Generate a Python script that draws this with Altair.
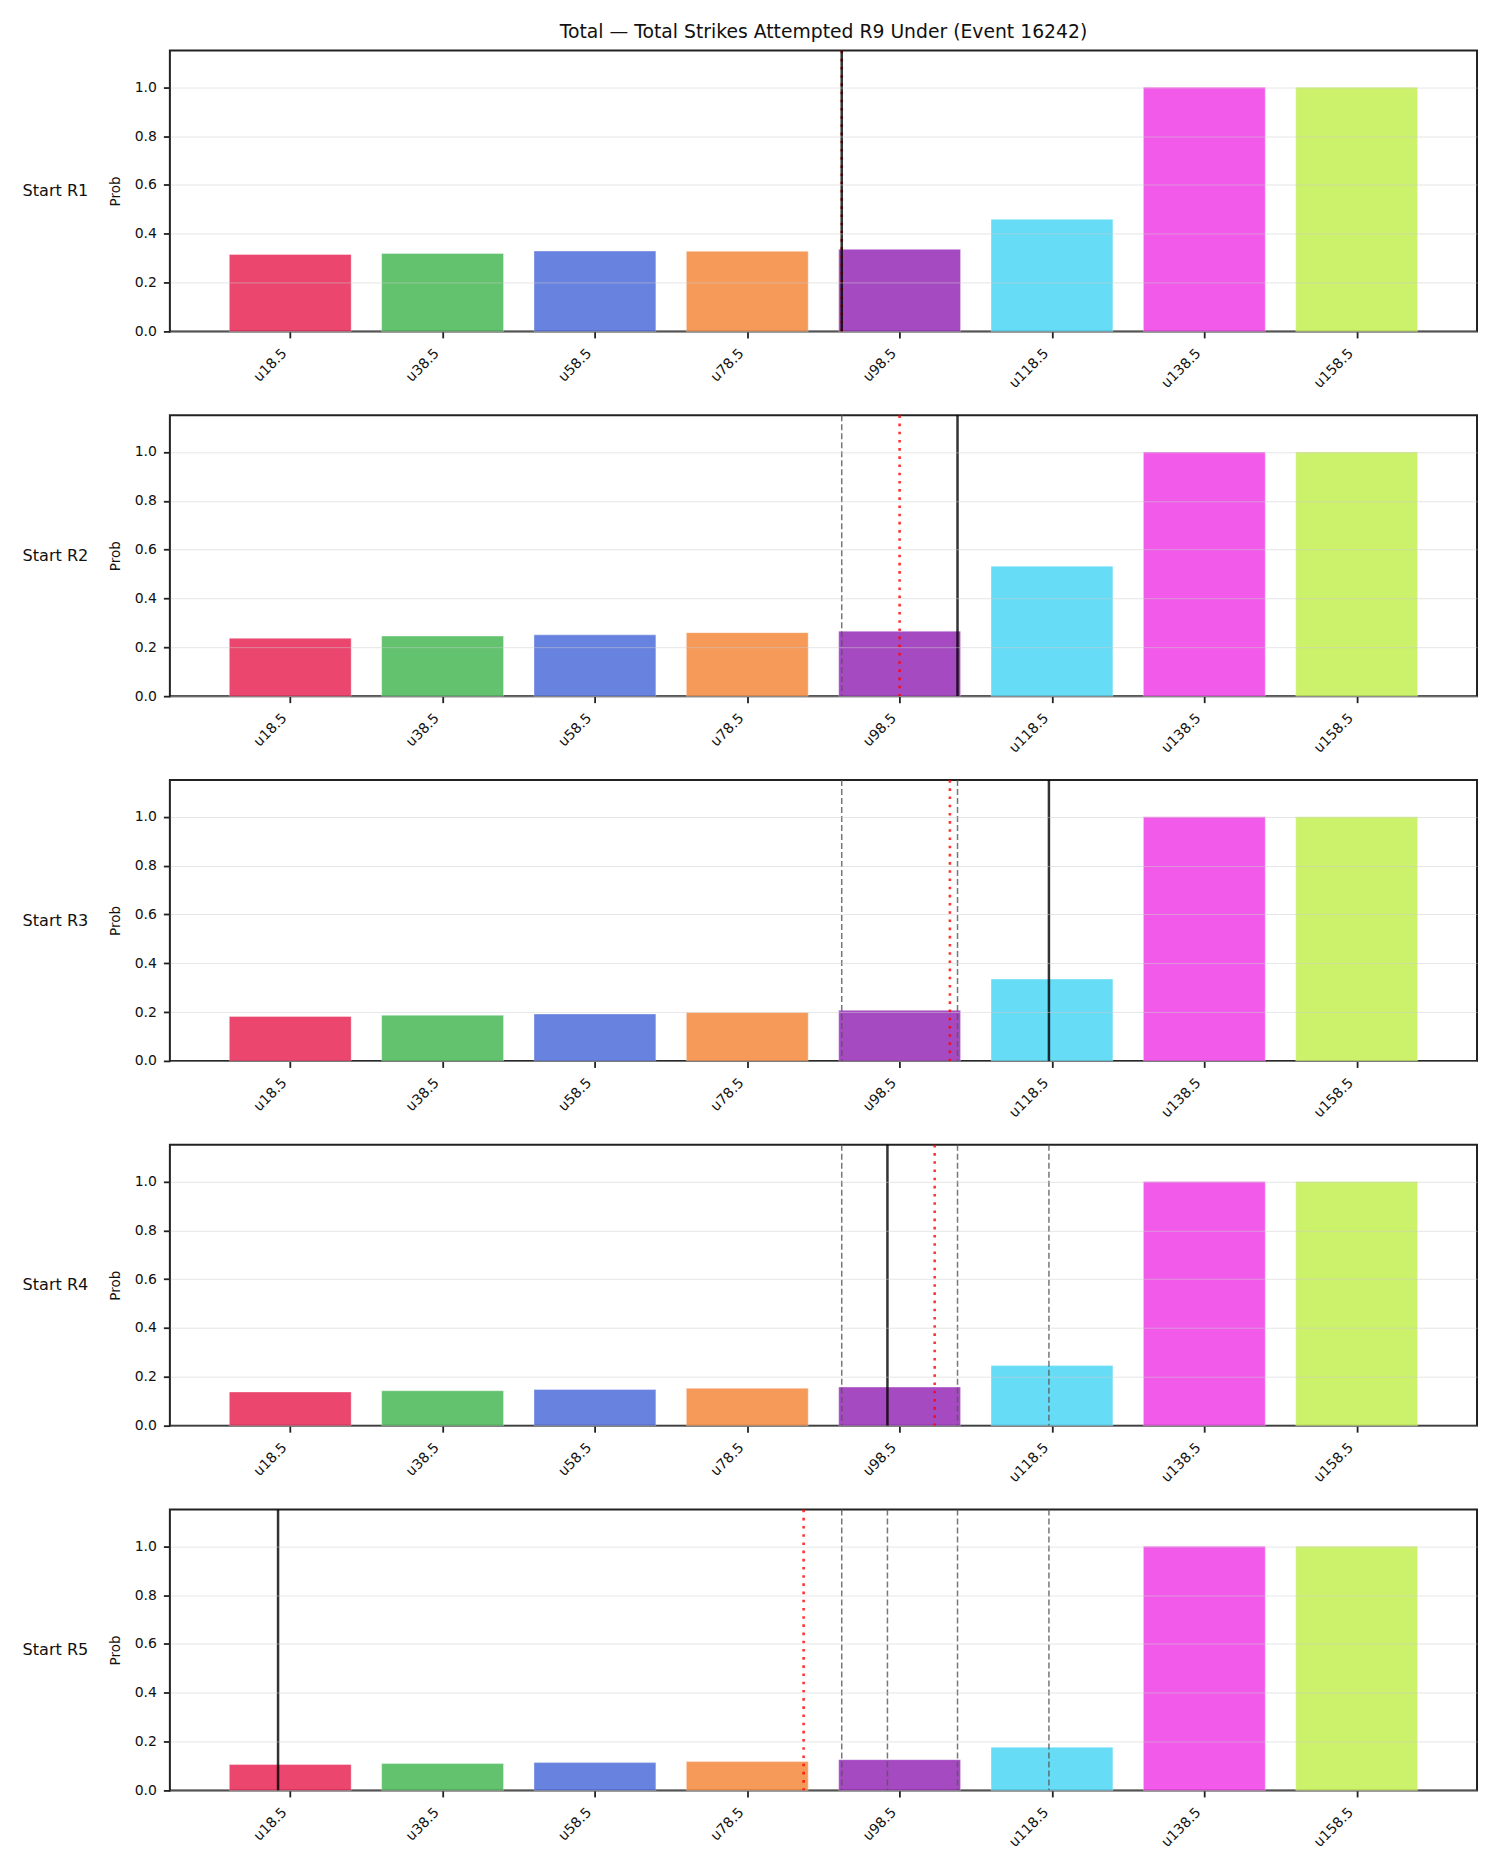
import altair as alt
import pandas as pd

cats = ["u18.5", "u38.5", "u58.5", "u78.5", "u98.5", "u118.5", "u138.5", "u158.5"]
bar_colors = ["#e6194b", "#3cb44b", "#4363d8", "#f58231", "#911eb4", "#42d4f4", "#f032e6", "#bfef45"]
row_names = ["Start R1", "Start R2", "Start R3", "Start R4", "Start R5"]
probs = [
    [0.315, 0.319, 0.329, 0.328, 0.336, 0.459, 1.0, 1.0],
    [0.237, 0.246, 0.251, 0.260, 0.266, 0.532, 1.0, 1.0],
    [0.182, 0.187, 0.192, 0.198, 0.207, 0.335, 1.0, 1.0],
    [0.138, 0.143, 0.148, 0.153, 0.158, 0.246, 1.0, 1.0],
    [0.106, 0.110, 0.114, 0.118, 0.126, 0.177, 1.0, 1.0],
]
current_pos = [3.62, 4.38, 4.98, 3.92, -0.08]
mean_pos = [3.62, 4.00, 4.33, 4.23, 3.37]
title_text = "Total \u2014 Total Strikes Attempted R9 Under (Event 16242)"

FONT = "DejaVu Sans"
X_DOMAIN = [-0.79, 7.79]
label_expr = "[" + ",".join("'%s'" % c for c in cats) + "][datum.value]"

x_scale = alt.Scale(domain=X_DOMAIN, nice=False, zero=False)
y_scale = alt.Scale(domain=[0, 1.15], nice=False, zero=True)

rows = []
for i, name in enumerate(row_names):
    bars_df = pd.DataFrame({
        "cat": cats,
        "x0": [k - 0.4 for k in range(len(cats))],
        "x1": [k + 0.4 for k in range(len(cats))],
        "base": [0.0] * len(cats),
        "prob": probs[i],
    })
    bars = alt.Chart(bars_df).mark_bar(opacity=0.8, stroke="white", strokeWidth=0.6, strokeOpacity=0.6).encode(
        x=alt.X("x0:Q", scale=x_scale,
                axis=alt.Axis(values=list(range(len(cats))), labelExpr=label_expr,
                              labelAngle=-45, labelAlign="right", labelBaseline="middle",
                              labelPadding=13, labelOffset=-6, tickSize=6.5, grid=False, title=None,
                              domain=False, labelFontSize=14, labelFont=FONT,
                              labelColor="#111", tickColor="#222", tickWidth=1.8)),
        x2="x1:Q",
        y=alt.Y("prob:Q", scale=y_scale,
                axis=alt.Axis(values=[0, 0.2, 0.4, 0.6, 0.8, 1.0], format=".1f",
                              title="Prob", titleFontSize=13.5, titleFont=FONT,
                              titleFontWeight="normal", titleColor="#111", titlePadding=12,
                              labelFontSize=14, labelFont=FONT, labelColor="#111", labelPadding=7,
                              tickSize=6.5, tickColor="#222", tickWidth=1.8, domain=False,
                              grid=True, gridColor="#cccccc", gridOpacity=0.5, gridWidth=1,
                              zindex=1)),
        y2="base:Q",
        color=alt.Color("cat:N", scale=alt.Scale(domain=cats, range=bar_colors), legend=None),
    )

    layers = [bars]
    prev = current_pos[:i]
    if prev:
        dash_df = pd.DataFrame({"pos": prev})
        layers.append(alt.Chart(dash_df).mark_rule(color="#555555", opacity=0.8, strokeWidth=1.5,
                                                   strokeDash=[6, 3]).encode(x=alt.X("pos:Q", scale=x_scale)))
    red_df = pd.DataFrame({"pos": [mean_pos[i]]})
    layers.append(alt.Chart(red_df).mark_rule(color="red", opacity=0.8, strokeWidth=2.6,
                                              strokeDash=[2.6, 5.6]).encode(x=alt.X("pos:Q", scale=x_scale)))
    cur_df = pd.DataFrame({"pos": [current_pos[i]]})
    layers.append(alt.Chart(cur_df).mark_rule(color="black", opacity=0.8, strokeWidth=2.5).encode(
        x=alt.X("pos:Q", scale=x_scale)))

    row = alt.layer(*layers).properties(
        width=1308, height=281,
        title=alt.TitleParams(name, orient="left", angle=0, align="right", baseline="middle",
                              anchor="middle", fontSize=16.1, font=FONT, fontWeight="normal",
                              color="#111", offset=-46),
    )
    rows.append(row)

chart = alt.vconcat(*rows, spacing=84, bounds="flush").properties(
    title=alt.TitleParams(title_text, fontSize=18.8, font=FONT, fontWeight="normal",
                          color="#111", anchor="middle", frame="group", baseline="alphabetic",
                          offset=-9),
    padding={"left": 21, "top": 22, "right": 22, "bottom": 5},
    background="white",
).configure_view(stroke="#222", strokeWidth=2)

chart.save("out.html", embed_options={"renderer": "svg", "actions": False})
